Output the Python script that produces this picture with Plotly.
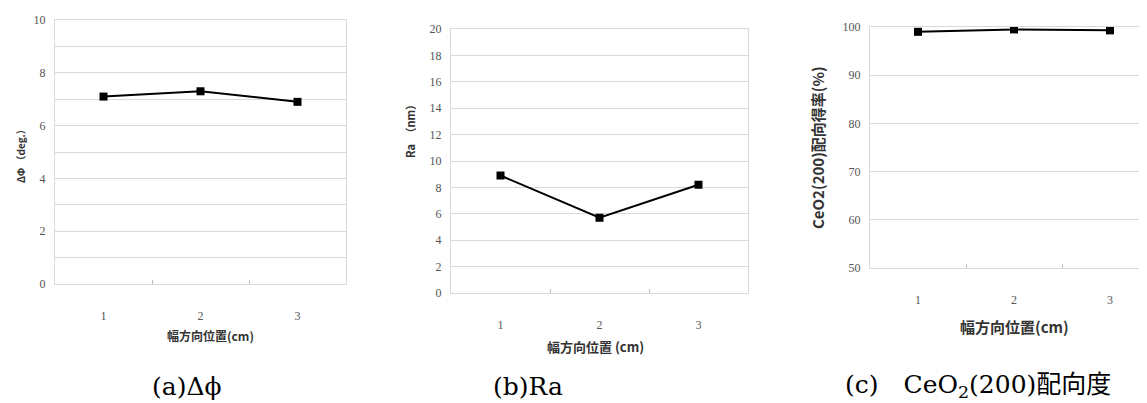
import plotly.graph_objects as go

# page has an 8px body margin (top/left); the figure fills the rest of the window
OFF = 8
W, H = 1147 - OFF, 403 - OFF

positions = ["1", "2", "3"]
delta_phi = [7.1, 7.3, 6.9]
ra_nm = [8.9, 5.7, 8.2]
ceo2_ratio = [99.0, 99.5, 99.3]

xtitle = "幅方向位置(cm)"
xtitle_b = "幅方向位置 (cm)"
ytitle_a = "ΔΦ （deg.）"
ytitle_b = "Ra　（nm）"
ytitle_c = "CeO2(200)配向得率(%)"
captions = ["(a)Δϕ", "(b)Ra", "(c)\u3000CeO<sub>2</sub>(200)配向度"]

def px_x(x):
    return (x - OFF) / W

def px_y(y):
    return 1 - (y - OFF) / H

fig = go.Figure()

series = [delta_phi, ra_nm, ceo2_ratio]
for i, vals in enumerate(series):
    fig.add_trace(go.Scatter(
        x=positions, y=vals, mode="lines+markers",
        line=dict(color="black", width=2),
        marker=dict(symbol="square", size=8, color="black"),
        xaxis="x" if i == 0 else f"x{i+1}",
        yaxis="y" if i == 0 else f"y{i+1}",
        showlegend=False, hoverinfo="skip",
    ))

grid = "#d9d9d9"
tickfont = dict(family="Liberation Serif", size=12, color="#555")

def xaxis(dom, yref, rng, mirror=True):
    return dict(domain=dom, anchor=yref, type="category", range=rng,
                showgrid=False, showline=True, linecolor=grid, linewidth=1,
                mirror=mirror, tickson="boundaries", ticks="inside", ticklen=4,
                tickcolor="#bbb", tickfont=tickfont, ticklabelstandoff=21,
                zeroline=False, fixedrange=True, automargin=False)

def yaxis(dom, xref, rng, dtick, minor=None, mirror=True):
    d = dict(domain=dom, anchor=xref, range=rng, dtick=dtick,
             showgrid=True, gridcolor=grid, gridwidth=1,
             showline=True, linecolor=grid, linewidth=1, mirror=mirror,
             ticks="", tickfont=tickfont, ticklabelstandoff=6,
             zeroline=False, fixedrange=True, automargin=False)
    if minor:
        d["minor"] = dict(dtick=minor, showgrid=True, gridcolor=grid, gridwidth=1)
    return d

right_c = 1147
rng_c_hi = -0.5 + (right_c - 870) / 96.0

fig.update_layout(
    template="none",
    width=W, height=H, autosize=False,
    margin=dict(l=0, r=0, t=0, b=0, pad=0),
    showlegend=False,
    paper_bgcolor="white", plot_bgcolor="white",
    xaxis=xaxis([px_x(55), px_x(346)], "y", [-0.5, 2.5]),
    yaxis=yaxis([px_y(284), px_y(20)], "x", [0, 10], 2, minor=1),
    xaxis2=xaxis([px_x(451), px_x(748)], "y2", [-0.5, 2.5]),
    yaxis2=yaxis([px_y(293), px_y(29)], "x2", [0, 20], 2),
    xaxis3=xaxis([px_x(870), 1.0], "y3", [-0.5, rng_c_hi], mirror=True),
    yaxis3=yaxis([px_y(268), px_y(27)], "x3", [50, 100], 10, mirror=False),
)

cjk = "Noto Sans CJK JP"
annos = [
    dict(text=f"<b>{xtitle}</b>", x=px_x(210), y=px_y(335), size=12),
    dict(text=f"<b>{xtitle_b}</b>", x=px_x(596), y=px_y(346), size=13),
    dict(text=f"<b>{xtitle}</b>", x=px_x(1014), y=px_y(326), size=15),
    dict(text=f"<b>{ytitle_a}</b>", x=px_x(20), y=px_y(154), size=10, angle=-90),
    dict(text=f"<b>{ytitle_b}</b>", x=px_x(410), y=px_y(129), size=11, angle=-90),
    dict(text=f"<b>{ytitle_c}</b>", x=px_x(817), y=px_y(148), size=15, angle=-90),
]
for a in annos:
    fig.add_annotation(text=a["text"], x=a["x"], y=a["y"], xref="paper", yref="paper",
                       showarrow=False, textangle=a.get("angle", 0),
                       font=dict(family=cjk, size=a["size"], color="#333"),
                       xanchor="center", yanchor="middle")

cap_x = [187, 528, 978]
for cx, c in zip(cap_x, captions):
    fig.add_annotation(text=c, x=px_x(cx), y=px_y(386), xref="paper", yref="paper",
                       showarrow=False, xanchor="center", yanchor="middle",
                       font=dict(family="DejaVu Serif, Noto Sans CJK JP", size=25, color="black"))

fig.write_html("out.html")
